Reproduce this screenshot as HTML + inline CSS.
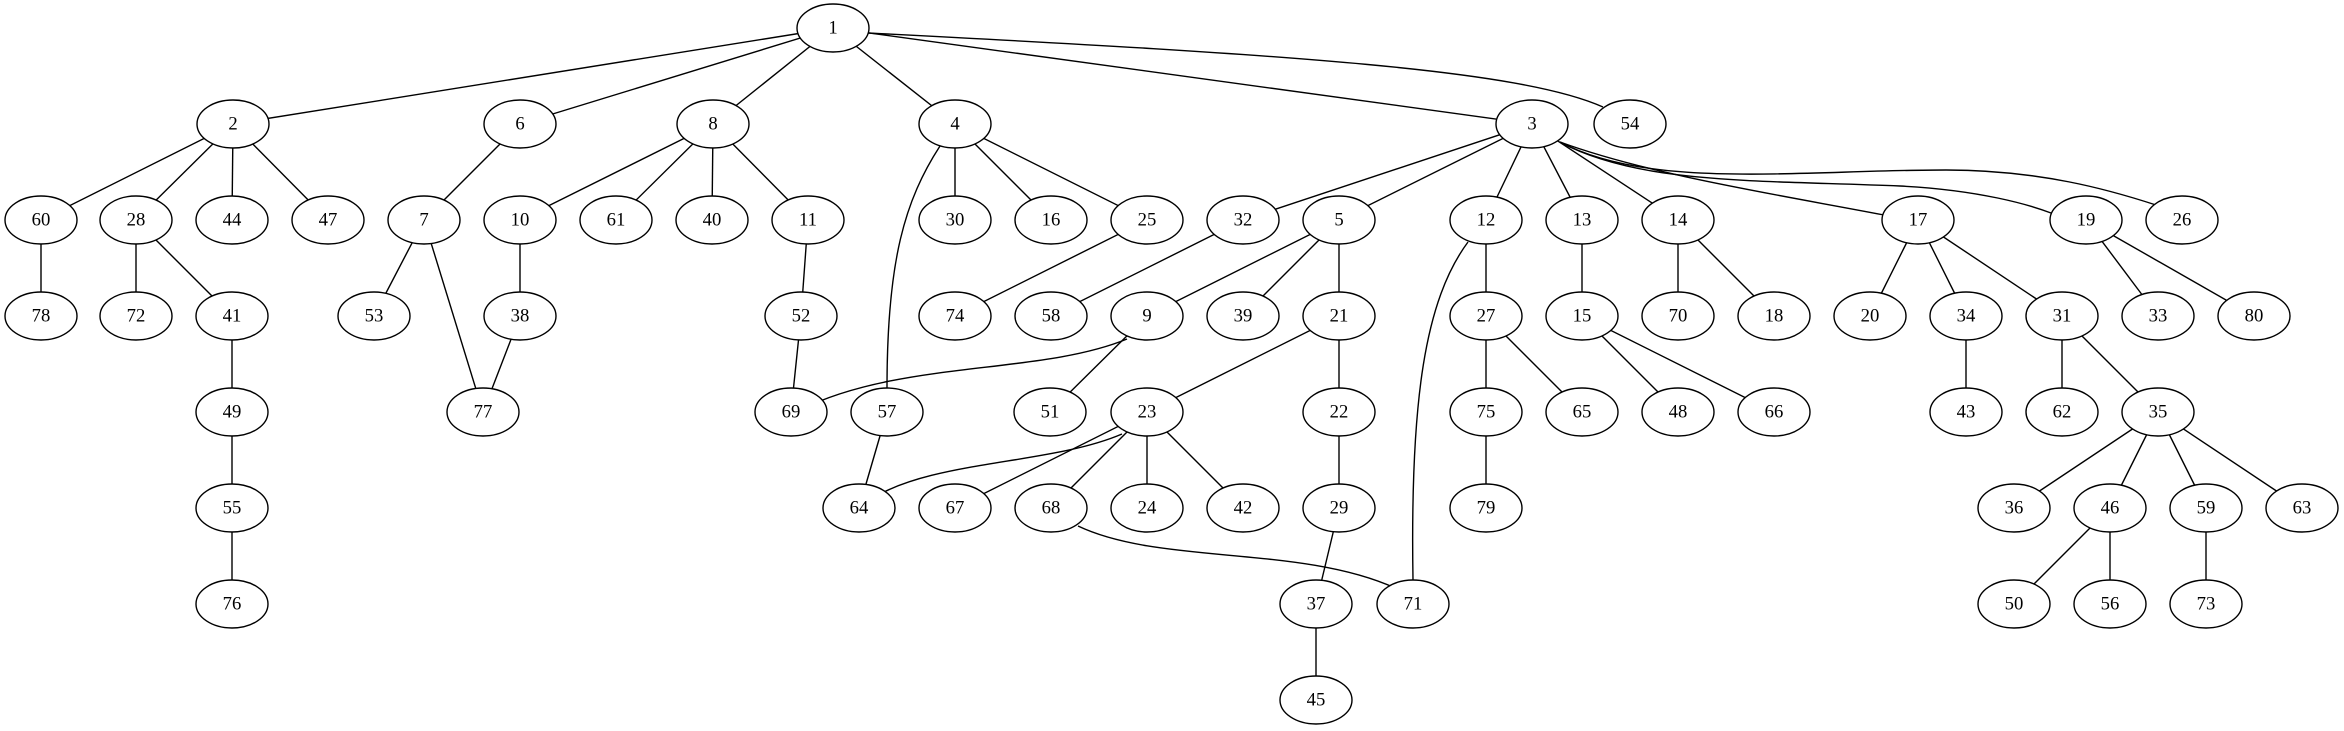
<!DOCTYPE html>
<html><head><meta charset="utf-8"><style>
html,body{margin:0;padding:0;background:#fff;}
svg{display:block;}
text{font-family:"Liberation Serif",serif;font-size:18.67px;text-anchor:middle;dominant-baseline:central;fill:#000;}
</style></head><body>
<svg width="2344" height="731" viewBox="0 0 2344 731" xmlns="http://www.w3.org/2000/svg">
<g id="edges" stroke="#000" stroke-width="1.4" fill="none"></g>
<g id="nodes"></g>
<script>
var N={1:[833,28],2:[233,124],6:[520,124],8:[713,124],4:[955,124],3:[1532,124],54:[1630,124],
60:[41,220],28:[136,220],44:[232,220],47:[328,220],7:[424,220],10:[520,220],61:[616,220],40:[712,220],11:[808,220],30:[955,220],16:[1051,220],25:[1147,220],32:[1243,220],5:[1339,220],12:[1486,220],13:[1582,220],14:[1678,220],17:[1918,220],19:[2086,220],26:[2182,220],
78:[41,316],72:[136,316],41:[232,316],53:[374,316],38:[520,316],52:[801,316],74:[955,316],58:[1051,316],9:[1147,316],39:[1243,316],21:[1339,316],27:[1486,316],15:[1582,316],70:[1678,316],18:[1774,316],20:[1870,316],34:[1966,316],31:[2062,316],33:[2158,316],80:[2254,316],
49:[232,412],77:[483,412],69:[791,412],57:[887,412],51:[1050,412],23:[1147,412],22:[1339,412],75:[1486,412],65:[1582,412],48:[1678,412],66:[1774,412],43:[1966,412],62:[2062,412],35:[2158,412],
55:[232,508],64:[859,508],67:[955,508],68:[1051,508],24:[1147,508],42:[1243,508],29:[1339,508],79:[1486,508],36:[2014,508],46:[2110,508],59:[2206,508],63:[2302,508],
76:[232,604],37:[1316,604],71:[1413,604],50:[2014,604],56:[2110,604],73:[2206,604],45:[1316,700]};
var E="1-2 1-6 1-8 1-4 1-3 2-60 2-28 2-44 2-47 6-7 8-10 8-61 8-40 8-11 4-30 4-16 4-25 3-32 3-5 3-12 3-13 3-14 60-78 28-72 28-41 41-49 49-55 55-76 7-53 7-77 10-38 38-77 11-52 52-69 25-74 32-58 5-9 5-39 5-21 9-51 21-23 21-22 23-67 23-68 23-24 23-42 22-29 29-37 37-45 57-64 12-27 27-75 27-65 75-79 13-15 15-48 15-66 14-70 14-18 17-20 17-34 17-31 34-43 31-62 31-35 35-36 35-46 35-59 35-63 46-50 46-56 59-73 19-33 19-80".split(" ");
var ns="http://www.w3.org/2000/svg",ge=document.getElementById("edges"),gn=document.getElementById("nodes");
function p(d){var e=document.createElementNS(ns,"path");e.setAttribute("d",d);ge.appendChild(e);}
E.forEach(function(s){var a=s.split("-"),A=N[a[0]],B=N[a[1]];p("M"+A[0]+","+A[1]+"L"+B[0]+","+B[1]);});
p("M868,33 C1300,55 1520,70 1603,107");
p("M940,146 C905,200 887,260 887,388");
p("M1468,242 C1425,300 1410,400 1413,580");
p("M1127,339 C1040,375 900,360 800,410");
p("M1122,434 C1050,465 930,460 870,500");
p("M1078,526 C1160,565 1300,545 1395,588");
p("M1560,142 C1650,175 1780,195 1884,215");
p("M1560,142 C1640,185 1760,180 1900,186 C1980,190 2030,205 2051,213");
p("M1560,142 C1650,190 1800,170 1946,170 C2040,170 2110,190 2156,205");
for(var k in N){var c=N[k];var el=document.createElementNS(ns,"ellipse");
el.setAttribute("cx",c[0]);el.setAttribute("cy",c[1]);el.setAttribute("rx",36);el.setAttribute("ry",24);
el.setAttribute("fill","#fff");el.setAttribute("stroke","#000");el.setAttribute("stroke-width","1.4");gn.appendChild(el);
var t=document.createElementNS(ns,"text");t.setAttribute("x",c[0]);t.setAttribute("y",c[1]);t.textContent=k;gn.appendChild(t);}
</script>
</svg>
</body></html>
